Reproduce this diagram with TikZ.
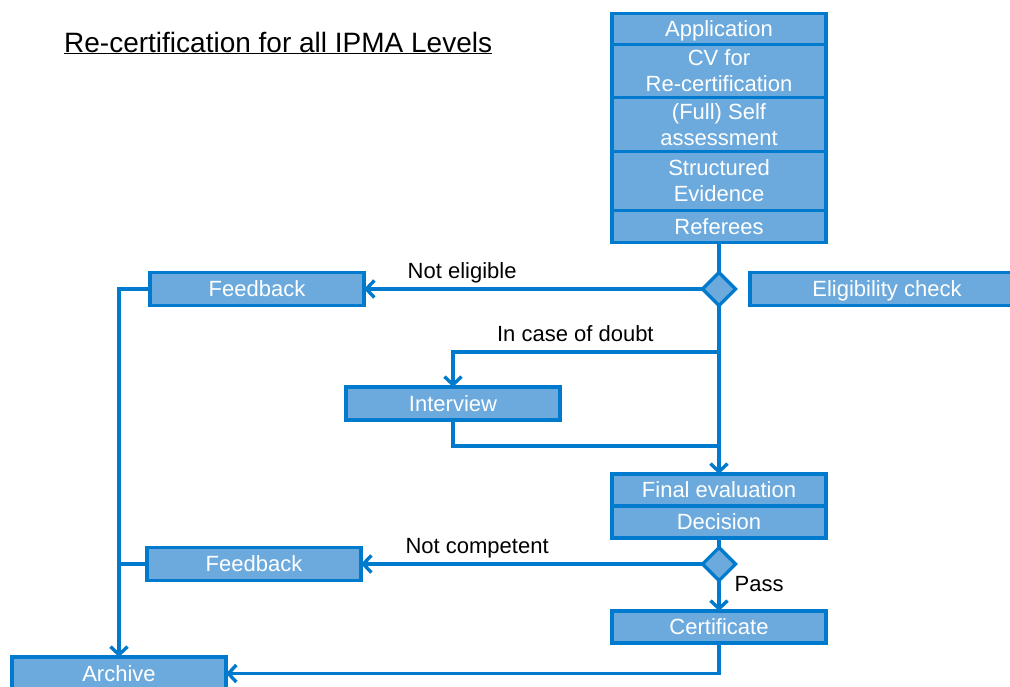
\documentclass[tikz,border=0pt]{standalone}
\usepackage{fontspec}
\setmainfont{Liberation Sans}
\usepackage{tikz}
\usetikzlibrary{positioning,shapes.geometric,arrows.meta}

\definecolor{boxfill}{RGB}{108,170,221}
\definecolor{boxline}{RGB}{0,122,204}

\begin{document}
\begin{tikzpicture}[x=1pt, y=-1pt,
  stage/.style={draw=boxline, fill=boxfill, line width=3.2pt, text=white,
    font=\fontsize{22}{26}\selectfont, minimum width=214pt, minimum height=32pt,
    text depth=0pt, inner sep=0pt, outer sep=0pt, align=center},
  check/.style={diamond, aspect=1, draw=boxline, fill=boxfill, line width=3.2pt,
    minimum size=33pt, inner sep=0pt, outer sep=0pt},
  link/.style={draw=boxline, line width=3.4pt},
  lab/.style={font=\fontsize{22}{26}\selectfont, inner sep=0pt},
  >={Straight Barb[length=8pt,width=17pt]}]
  \useasboundingbox (0,0) rectangle (1010,686);

  \node[lab, font=\fontsize{28}{34}\selectfont, anchor=base west] (title) at (64,52)
    {\underline{Re-certification for all IPMA Levels}};

  % application documents
  \node[stage, minimum height=31pt] (app) at (719,29) {Application};
  \node[stage, minimum height=53pt, below=0pt of app] (cv) {CV for\\Re-certification};
  \node[stage, minimum height=54pt, below=0pt of cv] (self) {(Full) Self\\assessment};
  \node[stage, minimum height=59pt, below=0pt of self] (evid) {Structured\\Evidence};
  \node[stage, below=0pt of evid] (ref) {Referees};

  % eligibility
  \node[check] (elig) at (719,289) {};
  \node[stage, minimum width=274pt, minimum height=33pt] (eligbox) at (887,289) {Eligibility check};
  \node[stage, minimum height=33pt] (fb1) at (257,289) {Feedback};
  \node[stage, minimum height=33pt] (intv) at (453,403.5) {Interview};
  \coordinate (doubt) at (719,352);
  \coordinate (merge) at (719,446);

  % evaluation
  \node[stage] (final) at (719,490) {Final evaluation};
  \node[stage, below=0pt of final] (dec) {Decision};
  \node[check] (comp) at (719,564) {};
  \node[stage, minimum height=33pt] (fb2) at (254,564) {Feedback};
  \node[stage] (cert) at (719,627) {Certificate};
  \node[stage, minimum height=33pt] (arch) at (119,673.5) {Archive};

  \draw[link] (ref) -- (elig);
  \draw[link,->] (elig.west) -- node[lab, pos=0.71, above=4pt] {Not eligible} (fb1.east);
  \draw[link,->] (fb1.west) -| (arch.north);
  \draw[link,->] (doubt) -| node[lab, pos=0.27, above=9pt] {In case of doubt} (intv.north);
  \draw[link] (intv.south) |- (merge);
  \draw[link,->] (elig.south) -- (final.north);
  \draw[link] (dec.south) -- (comp);
  \draw[link,->] (comp.west) -- node[lab, pos=0.66, above=4pt] {Not competent} (fb2.east);
  \draw[link] (fb2.west) -- (fb2.west -| arch.north);
  \draw[link,->] (comp.south) -- node[lab, pos=0.1, right=14pt] {Pass} (cert.north);
  \draw[link,->] (cert.south) |- (arch.east);
\end{tikzpicture}
\end{document}
